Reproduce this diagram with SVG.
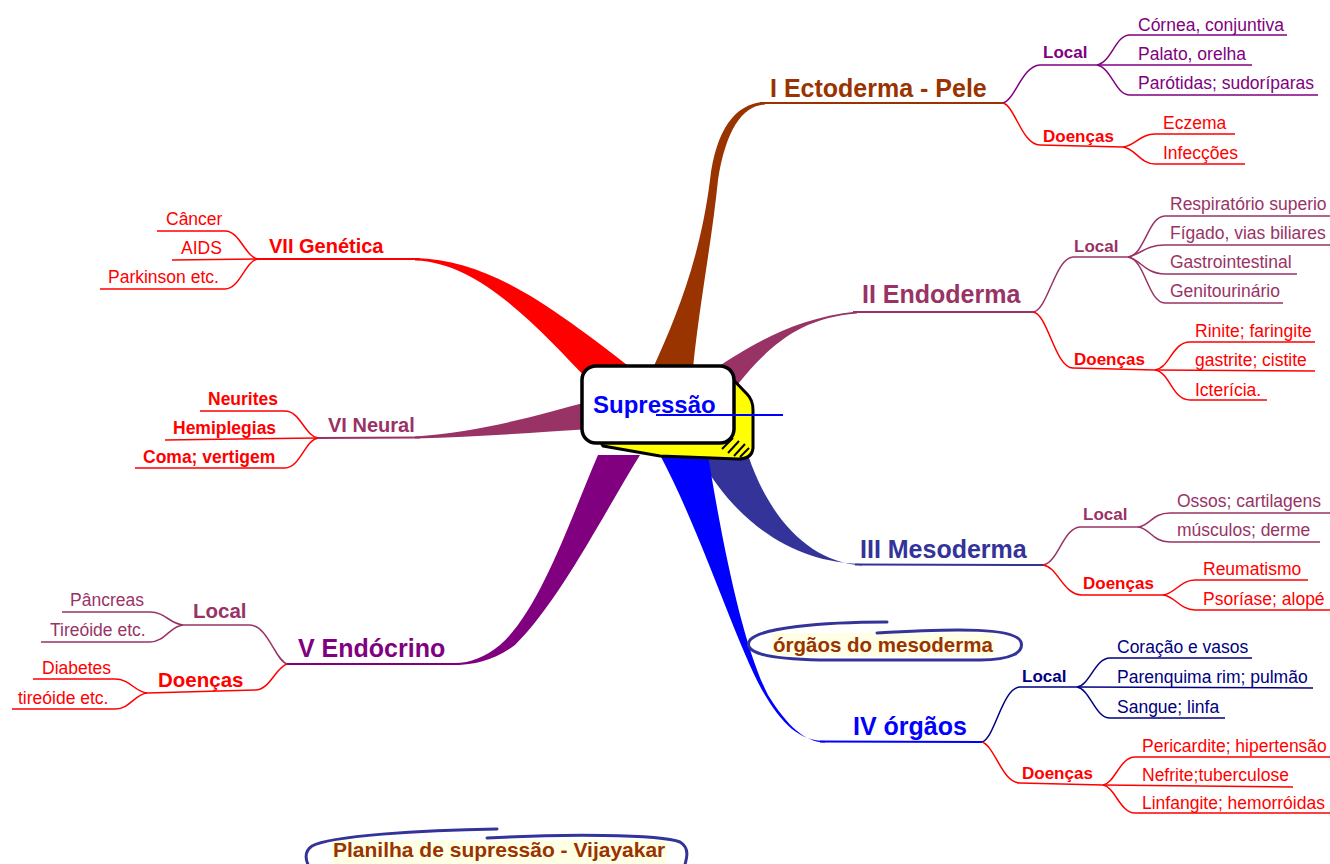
<svg xmlns="http://www.w3.org/2000/svg" width="1330" height="864" viewBox="0 0 1330 864">
<style>
text{font-family:"Liberation Sans",Arial,sans-serif}
.b{font-weight:bold}
.main{font-size:25px;font-weight:bold}
.main2{font-size:20px;font-weight:bold}
.sub{font-size:17px;font-weight:bold}
.leaf{font-size:17.5px}
.ln{fill:none;stroke-width:1.5}
.ml{fill:none;stroke-width:2}
.br{fill:#993300}.brs{stroke:#993300}
.pk{fill:#993366}.pks{stroke:#993366}
.nv{fill:#333399}.nvs{stroke:#333399}
.bl{fill:#0000FF}.bls{stroke:#0000FF}
.pu{fill:#800080}.pus{stroke:#800080}
.rd{fill:#FF0000}.rds{stroke:#FF0000}
.dn{fill:#000080}.dns{stroke:#000080}
.oval{fill:none;stroke:#333399;stroke-width:3;stroke-linecap:round}
</style>
<rect width="1330" height="864" fill="#FFFFFF"/>
<g id="connectors">
  <!-- tapered main branches -->
  <path class="rd" d="M415,258 C490,260 550,305 640,375 L590,382 C540,330 480,262 415,260.5 Z"/>
  <path class="br" d="M653,368 C675,320 700,260 710,180 C716,130 735,103 765,102 L765,104.5 C742,106 726,130 718,180 C712,240 700,300 693,368 Z"/>
  <path class="pk" d="M716,368 C745,350 790,318 857,311.5 L857,313.5 C800,318 770,345 738,384 Z"/>
  <path class="pk" d="M590,401 C540,415 480,432 415,436.5 L415,438.5 C480,437 540,432 590,429 Z"/>
  <path class="nv" d="M698,455 C740,530 800,563 862,564 L862,565.5 C810,562 770,520 748,455 Z"/>
  <path class="bl" d="M660,455 C700,530 735,640 762,690 C782,725 800,741 825,741 L825,742.5 C805,742 788,727 768,695 C745,650 725,560 708,455 Z"/>
  <path class="pu" d="M598,455 C570,520 540,610 500,645 C485,657 470,663 455,663 L455,665 C475,665 495,660 515,645 C560,600 600,520 640,455 Z"/>
  <!-- I Ectoderma -->
  <path class="ml brs" d="M760,103 L1003,103"/>
  <path class="ln pus" d="M1003,103 C1015,100 1022,66 1040,65 L1097,65"/>
  <path class="ln pus" d="M1097,65 C1112,62 1115,35 1130,35 L1287,35"/>
  <path class="ln pus" d="M1097,65 L1252,65"/>
  <path class="ln pus" d="M1097,65 C1112,68 1115,95 1130,95 L1318,95"/>
  <path class="ln rds" d="M1003,103 C1015,106 1022,145 1040,145 L1123,147"/>
  <path class="ln rds" d="M1123,147 C1135,146 1140,134 1155,134 L1235,134"/>
  <path class="ln rds" d="M1123,147 C1135,148 1140,164 1155,164 L1245,164"/>
  <!-- II Endoderma -->
  <path class="ml pks" d="M853,312 L1033,312"/>
  <path class="ln pks" d="M1033,312 C1048,310 1055,258 1073,257 L1128,257"/>
  <path class="ln pks" d="M1128,257 C1145,255 1148,216 1165,216 L1330,216"/>
  <path class="ln pks" d="M1128,257 C1140,255 1145,245 1165,245 L1330,245"/>
  <path class="ln pks" d="M1128,257 C1140,259 1145,274 1165,274 L1297,274"/>
  <path class="ln pks" d="M1128,257 C1145,259 1148,303 1165,303 L1283,303"/>
  <path class="ln rds" d="M1033,312 C1048,314 1055,368 1073,368 L1155,370"/>
  <path class="ln rds" d="M1155,370 C1170,368 1172,342 1190,342 L1315,342"/>
  <path class="ln rds" d="M1155,370 L1315,371"/>
  <path class="ln rds" d="M1155,370 C1170,372 1172,400 1190,400 L1267,400"/>
  <!-- III Mesoderma -->
  <path class="ml nvs" d="M855,564.5 L1043,565"/>
  <path class="ln pks" d="M1043,565 C1058,563 1063,528 1080,527 L1138,527"/>
  <path class="ln pks" d="M1138,527 C1150,526 1152,513 1170,513 L1330,513"/>
  <path class="ln pks" d="M1138,527 C1150,528 1152,542 1170,542 L1320,542"/>
  <path class="ln rds" d="M1043,565 C1058,567 1063,595 1082,595 L1163,595"/>
  <path class="ln rds" d="M1163,595 C1175,594 1180,580 1195,580 L1308,580"/>
  <path class="ln rds" d="M1163,595 C1175,596 1180,610 1195,610 L1330,610"/>
  <!-- IV orgaos -->
  <path class="ml bls" d="M820,741.5 L982,742"/>
  <path class="ln dns" d="M982,742 C995,738 1002,688 1020,687 L1077,687"/>
  <path class="ln dns" d="M1077,687 C1090,685 1095,658 1110,658 L1252,658"/>
  <path class="ln dns" d="M1077,687 L1313,688"/>
  <path class="ln dns" d="M1077,687 C1090,689 1095,718 1110,718 L1225,718"/>
  <path class="ln rds" d="M982,742 C995,746 1002,783 1020,783 L1103,785"/>
  <path class="ln rds" d="M1103,785 C1115,783 1120,757 1135,757 L1330,757"/>
  <path class="ln rds" d="M1103,785 L1293,787"/>
  <path class="ln rds" d="M1103,785 C1115,787 1120,813 1135,813 L1330,813"/>
  <!-- V Endocrino -->
  <path class="ml pus" d="M460,664 L287,664"/>
  <path class="ln pks" d="M287,664 C275,660 268,626 250,625 L183,625"/>
  <path class="ln pks" d="M183,625 C170,624 165,612 150,612 L62,612"/>
  <path class="ln pks" d="M183,625 C170,626 165,642 150,642 L41,642"/>
  <path class="ln rds" d="M287,664 C275,668 270,690 255,690 L147,693"/>
  <path class="ln rds" d="M147,693 C135,692 130,679 115,679 L33,679"/>
  <path class="ln rds" d="M147,693 C135,694 130,709 115,709 L12,709"/>
  <!-- VI Neural -->
  <path class="ml pks" d="M420,437.5 L318,438"/>
  <path class="ln rds" d="M318,438 C305,436 300,411 285,411 L200,411"/>
  <path class="ln rds" d="M318,438 L165,440"/>
  <path class="ln rds" d="M318,438 C305,440 300,468 285,468 L135,468"/>
  <!-- VII Genetica -->
  <path class="ml rds" d="M420,259 L258,259"/>
  <path class="ln rds" d="M258,259 C245,257 240,231 225,231 L157,231"/>
  <path class="ln rds" d="M258,259 L172,260"/>
  <path class="ln rds" d="M258,259 C245,261 240,289 225,289 L100,289"/>
</g>
<g id="center">
  <path d="M722,368 L747,394 Q753,400 753,410 L753,448 Q752,459 738,459 L660,456 L603,446 L598,438 L730,438 Z" fill="#FFFF00" stroke="#000000" stroke-width="3" stroke-linejoin="round"/>
  <rect x="582" y="366" width="152" height="77" rx="14" fill="#FFFFFF" stroke="#000000" stroke-width="3.5"/>
  <g stroke="#000000" stroke-width="2">
    <line x1="722" y1="449" x2="733" y2="438"/>
    <line x1="728" y1="453" x2="739" y2="441"/>
    <line x1="734" y1="456" x2="745" y2="444"/>
    <line x1="740" y1="457" x2="749" y2="448"/>
  </g>
  <text x="593" y="413" class="b" font-size="24" fill="#0000FF">Supressão</text>
  <line x1="656" y1="415" x2="783" y2="415" stroke="#0000FF" stroke-width="2"/>
</g>
<g id="ectoderma">
  <text x="770" y="97" class="main br">I Ectoderma - Pele</text>
  <text x="1043" y="58" class="sub pu">Local</text>
  <text x="1043" y="142" class="sub rd">Doenças</text>
  <text x="1138" y="31" class="leaf pu">Córnea, conjuntiva</text>
  <text x="1138" y="60" class="leaf pu">Palato, orelha</text>
  <text x="1138" y="89" class="leaf pu">Parótidas; sudoríparas</text>
  <text x="1163" y="129" class="leaf rd">Eczema</text>
  <text x="1163" y="159" class="leaf rd">Infecções</text>
</g>
<g id="endoderma">
  <text x="862" y="303" class="main pk">II Endoderma</text>
  <text x="1074" y="252" class="sub pk">Local</text>
  <text x="1074" y="365" class="sub rd">Doenças</text>
  <text x="1170" y="210" class="leaf pk">Respiratório superio</text>
  <text x="1170" y="239" class="leaf pk">Fígado, vias biliares</text>
  <text x="1170" y="268" class="leaf pk">Gastrointestinal</text>
  <text x="1170" y="297" class="leaf pk">Genitourinário</text>
  <text x="1195" y="337" class="leaf rd">Rinite; faringite</text>
  <text x="1195" y="366" class="leaf rd">gastrite; cistite</text>
  <text x="1195" y="396" class="leaf rd">Icterícia.</text>
</g>
<g id="mesoderma">
  <text x="860" y="558" class="main nv">III Mesoderma</text>
  <text x="1083" y="520" class="sub pk">Local</text>
  <text x="1083" y="589" class="sub rd">Doenças</text>
  <text x="1177" y="507" class="leaf pk">Ossos; cartilagens</text>
  <text x="1177" y="536" class="leaf pk">músculos; derme</text>
  <text x="1203" y="575" class="leaf rd">Reumatismo</text>
  <text x="1203" y="605" class="leaf rd">Psoríase; alopé</text>
</g>
<g id="orgaos">
  <text x="853" y="735" class="main bl">IV órgãos</text>
  <text x="1022" y="682" class="sub dn">Local</text>
  <text x="1022" y="779" class="sub rd">Doenças</text>
  <text x="1117" y="653" class="leaf dn">Coração e vasos</text>
  <text x="1117" y="683" class="leaf dn">Parenquima rim; pulmão</text>
  <text x="1117" y="713" class="leaf dn">Sangue; linfa</text>
  <text x="1142" y="752" class="leaf rd">Pericardite; hipertensão</text>
  <text x="1142" y="781" class="leaf rd">Nefrite;tuberculose</text>
  <text x="1142" y="809" class="leaf rd">Linfangite; hemorróidas</text>
</g>
<g id="endocrino">
  <text x="298" y="657" class="main pu">V Endócrino</text>
  <text x="193" y="618" class="b pk" font-size="20.5">Local</text>
  <text x="158" y="687" class="b rd" font-size="20.5">Doenças</text>
  <text x="70" y="606" class="leaf pk">Pâncreas</text>
  <text x="50" y="636" class="leaf pk">Tireóide etc.</text>
  <text x="42" y="674" class="leaf rd">Diabetes</text>
  <text x="18" y="704" class="leaf rd">tireóide etc.</text>
</g>
<g id="neural">
  <text x="328" y="432" class="main2 pk">VI Neural</text>
  <text x="208" y="405" class="b rd" font-size="17.5">Neurites</text>
  <text x="173" y="434" class="b rd" font-size="17.5">Hemiplegias</text>
  <text x="143" y="463" class="b rd" font-size="17.5">Coma; vertigem</text>
</g>
<g id="genetica">
  <text x="269" y="253" class="main2 rd">VII Genética</text>
  <text x="166" y="225" class="leaf rd">Câncer</text>
  <text x="181" y="254" class="leaf rd">AIDS</text>
  <text x="108" y="283" class="leaf rd">Parkinson etc.</text>
</g>
<g id="nota-mesoderma">
  <rect x="772" y="633" width="223" height="23" fill="#FFFFE6"/>
  <path class="oval" d="M887,622 C820,622 760,628 750,640 C742,652 765,659 820,660 L980,660 C1012,660 1024,652 1021,642 C1016,628 960,628 877,633"/>
  <text x="773" y="652" class="b br" font-size="20.5">órgãos do mesoderma</text>
</g>
<g id="titulo">
  <rect x="332" y="840" width="335" height="24" fill="#FFFFE6"/>
  <path class="oval" d="M497,829 C420,830 330,836 312,846 C303,852 306,862 310,868 M487,838 C560,834 660,834 680,842 C690,848 687,858 684,868"/>
  <text x="333" y="857" class="b br" font-size="21">Planilha de supressão - Vijayakar</text>
</g>
</svg>
